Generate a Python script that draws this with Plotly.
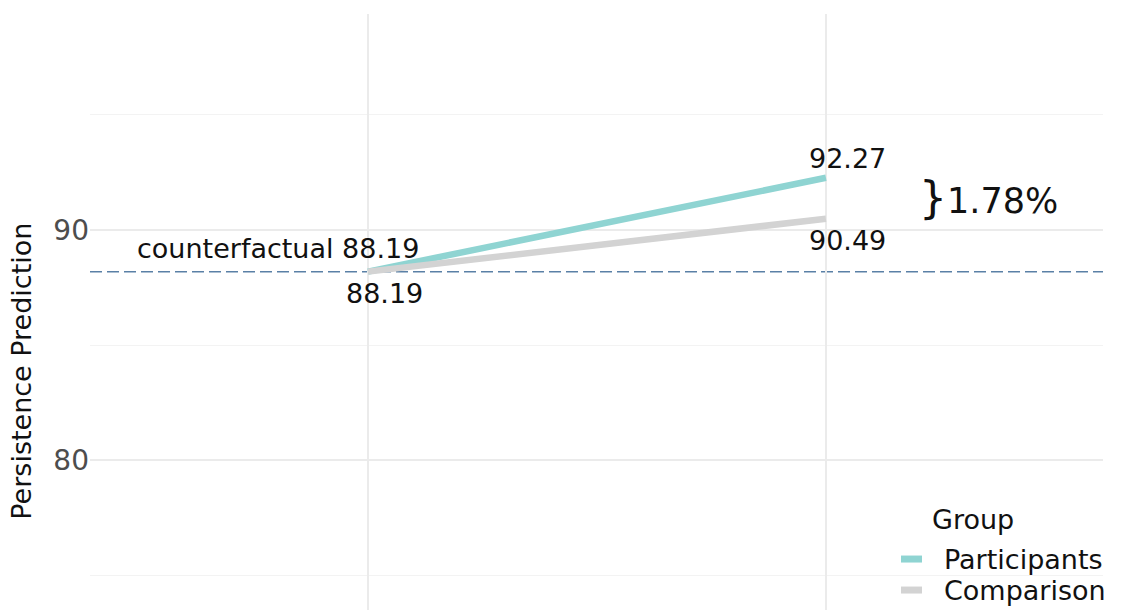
import plotly.graph_objects as go

# Persistence prediction before/after, by group
periods = [1, 2]
groups = ["Participants", "Comparison"]
participants = [88.19, 92.27]
comparison = [88.19, 90.49]
counterfactual = 88.19
group_colors = ["#8fd4d2", "#d3d3d3"]
y_ticks = [80, 90]
y_minor = [75, 85, 95]

FONT = "DejaVu Sans"
TXT = "#111111"
FS = 27

fig = go.Figure()
for name, vals, col in zip(groups, [participants, comparison], group_colors):
    fig.add_trace(go.Scatter(
        x=periods, y=vals, mode="lines", name=name, showlegend=False,
        line=dict(color=col, width=6.5),
    ))

# counterfactual reference line
fig.add_hline(y=counterfactual, line=dict(color="#5a80a6", width=1.5, dash="12px,5px"), layer="below")

ann = dict(xref="x", yref="y", showarrow=False, font=dict(family=FONT, size=FS, color=TXT))
fig.add_annotation(x=periods[0], y=counterfactual, text=f"counterfactual {participants[0]:.2f}",
                   xanchor="right", yanchor="middle", xshift=53, yshift=23, **ann)
fig.add_annotation(x=periods[0], y=comparison[0], text=f"{comparison[0]:.2f}",
                   xanchor="center", yanchor="middle", xshift=17, yshift=-22, **ann)
fig.add_annotation(x=periods[1], y=participants[1], text=f"{participants[1]:.2f}",
                   xanchor="center", yanchor="middle", xshift=22, yshift=19, **ann)
fig.add_annotation(x=periods[1], y=comparison[1], text=f"{comparison[1]:.2f}",
                   xanchor="center", yanchor="middle", xshift=22, yshift=-22, **ann)

# gap between the two groups at the second period, with a brace
gap = participants[1] - comparison[1]
mid = (participants[1] + comparison[1]) / 2
fig.add_annotation(x=periods[1], y=mid, xref="x", yref="y", showarrow=False,
                   text=f"<span style='font-size:44px'>}}</span>{gap:.2f}%",
                   font=dict(family=FONT, size=35, color=TXT),
                   xanchor="left", yanchor="middle", xshift=91, yshift=1)

# y-axis title
fig.add_annotation(x=-0.068, y=0.40, xref="paper", yref="paper", text="Persistence Prediction",
                   textangle=-90, showarrow=False, xanchor="center", yanchor="middle",
                   font=dict(family=FONT, size=FS, color=TXT))

# legend: title, short keys and labels
fig.add_annotation(x=0.829, y=0.152, xref="paper", yref="paper", text="Group", showarrow=False,
                   xanchor="left", yanchor="middle", font=dict(family=FONT, size=FS, color=TXT))
key_y = [0.0855, 0.0335]
for name, col, ky in zip(groups, group_colors, key_y):
    fig.add_shape(type="line", xref="paper", yref="paper", x0=0.8006, x1=0.8213, y0=ky, y1=ky,
                  line=dict(color=col, width=7))
    fig.add_annotation(x=0.841, y=ky, xref="paper", yref="paper", text=name, showarrow=False,
                       xanchor="left", yanchor="middle", font=dict(family=FONT, size=FS, color=TXT))

fig.update_layout(
    width=1125, height=610,
    margin=dict(l=90, r=22, t=14, b=0, autoexpand=False),
    plot_bgcolor="white", paper_bgcolor="white",
    font=dict(family=FONT, size=FS, color=TXT),
    showlegend=False,
    xaxis=dict(
        range=[0.393, 2.605], tickvals=periods, showticklabels=False,
        showgrid=True, gridcolor="#ebebeb", gridwidth=1.5, zeroline=False, showline=False,
        ticks="",
    ),
    yaxis=dict(
        range=[73.48, 99.39], tickvals=y_ticks, ticktext=[str(t) for t in y_ticks],
        showgrid=True, gridcolor="#ebebeb", gridwidth=1.5, zeroline=False, showline=False,
        ticks="", tickfont=dict(family=FONT, size=28, color="#4d4d4d"),
        minor=dict(tickvals=y_minor, showgrid=True, gridcolor="#f3f3f3", gridwidth=1),
    ),
)

fig.write_html("out.html")
